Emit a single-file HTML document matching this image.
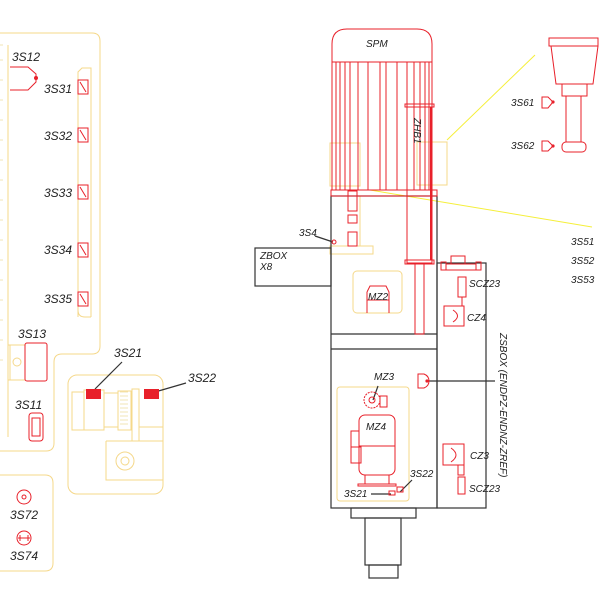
<!DOCTYPE html>
<html><head><meta charset="utf-8"><style>
html,body{margin:0;padding:0;background:#fff;}
svg{display:block;}
text{font-family:"Liberation Sans",sans-serif;font-style:italic;}
</style></head><body>
<svg width="600" height="600" viewBox="0 0 600 600" xmlns="http://www.w3.org/2000/svg">
<g fill="none" stroke="#f5d88a" stroke-width="1">
  <path d="M0 33 H92 Q100 33 100 41 V346 Q100 354 92 354 H62 Q54 354 54 362 V443 Q54 451 46 451 H0"/>
  <line x1="8" y1="45" x2="8" y2="437"/>
  <path d="M78 317 V72 L82 68 H91 V317"/>
  <path d="M78 310 Q78 317 85 317 H91"/>
  <line x1="8" y1="345" x2="25" y2="345"/><line x1="8" y1="380" x2="25" y2="380"/>
  <line x1="10" y1="345" x2="10" y2="380"/>
  <circle cx="17" cy="362" r="4"/>
  <path d="M0 475 H45 Q53 475 53 483 V563 Q53 571 45 571 H0"/>
  <rect x="68" y="375" width="95" height="119" rx="9"/>
  <rect x="72" y="392" width="12" height="38"/>
  <rect x="84" y="390" width="20" height="40"/>
  <rect x="104" y="393" width="14" height="34"/>
  <rect x="118" y="391" width="13" height="39"/>
  <rect x="132" y="389" width="7" height="52"/>
  <line x1="139" y1="427" x2="163" y2="427"/>
  <path d="M106 441 H163 M106 441 V480 H163"/>
  <circle cx="125" cy="461" r="9"/><circle cx="125" cy="461" r="4"/>
  <rect x="330" y="143" width="30" height="43"/>
  <rect x="417" y="142" width="30" height="43"/>
  <rect x="330" y="246" width="43" height="8"/>
  <line x1="360" y1="196" x2="360" y2="246"/>
  <rect x="353" y="271" width="49" height="42" rx="4"/>
  <rect x="337" y="387" width="72" height="114" rx="3"/>
</g>
<g stroke="#f2e5b5" stroke-width="1">
  <path d="M0 45 H3 M0 60 H3 M0 80 H3 M0 100 H3 M0 120 H3 M0 140 H3 M0 160 H3 M0 180 H3 M0 200 H3 M0 220 H3 M0 240 H3 M0 260 H3 M0 280 H3 M0 300 H3 M0 320 H3 M0 340 H3 M0 360 H3"/>
  <path d="M120 392 H128 M120 396 H128 M120 400 H128 M120 404 H128 M120 408 H128 M120 412 H128 M120 416 H128 M120 420 H128 M120 424 H128"/>
</g>
<g stroke="#f5ef3a" stroke-width="1">
  <line x1="447" y1="140" x2="535" y2="55"/>
  <line x1="370" y1="190" x2="592" y2="227"/>
</g>
<g fill="none" stroke="#333" stroke-width="1.2">
  <rect x="331" y="196" width="106" height="312"/>
  <line x1="331" y1="334" x2="437" y2="334"/>
  <line x1="331" y1="349" x2="437" y2="349"/>
  <rect x="437" y="263" width="49" height="245"/>
  <rect x="255" y="248" width="76" height="38"/>
  <rect x="351" y="508" width="65" height="10"/>
  <rect x="365" y="518" width="36" height="47"/>
  <rect x="369" y="565" width="29" height="13"/>
  <line x1="428" y1="381" x2="495" y2="381"/>
  <line x1="315" y1="236" x2="333" y2="242"/>
  <line x1="95" y1="389" x2="122" y2="362"/>
  <line x1="155" y1="392" x2="186" y2="383"/>
  <line x1="371" y1="494" x2="391" y2="494"/>
  <line x1="400" y1="492" x2="412" y2="480"/>
  <line x1="373" y1="400" x2="378" y2="386"/>
</g>
<g fill="none" stroke="#e8202a" stroke-width="1">
  <path d="M10 67 H28 L36 74 V82 L28 90 H10"/>
  <rect x="78" y="80" width="10" height="14"/><rect x="78" y="128" width="10" height="14"/>
  <rect x="78" y="185" width="10" height="14"/><rect x="78" y="243" width="10" height="14"/>
  <rect x="78" y="292" width="10" height="14"/>
  <path d="M80 82 L86 92 M80 130 L86 140 M80 187 L86 197 M80 245 L86 255 M80 294 L86 304"/>
  <rect x="25" y="343" width="22" height="38" rx="2"/>
  <rect x="29" y="413" width="14" height="28" rx="3"/><rect x="32" y="418" width="8" height="18"/>
  <circle cx="24" cy="497" r="7"/><circle cx="24" cy="497" r="2"/>
  <circle cx="24" cy="538" r="7"/><path d="M18 538 H30 M20 535 V541 M28 535 V541"/>
  <path d="M332 62 V44 Q332 29 347 29 H417 Q432 29 432 44 V62 Z"/>
  <rect x="332" y="62" width="100" height="128"/>
  <path d="M336 62 V190 M340 62 V190 M345 62 V190 M350 62 V190 M358 62 V190 M368 62 V190 M380 62 V190 M386 62 V190 M397 62 V190 M407 62 V190 M414 62 V190 M420 62 V190 M425 62 V190 M429 62 V190"/>
  <rect x="331" y="190" width="106" height="6"/>
  <rect x="407" y="104" width="25" height="159"/>
  <rect x="405" y="104" width="29" height="3"/>
  <rect x="405" y="260" width="29" height="4"/>
  <rect x="415" y="264" width="9" height="70"/>
  <line x1="431" y1="107" x2="431" y2="260" stroke-width="2"/>
  <rect x="348" y="191" width="9" height="20"/><rect x="348" y="215" width="9" height="8"/><rect x="348" y="232" width="9" height="14"/>
  <circle cx="334" cy="242" r="2"/>
  <path d="M367 292 L370 286 H386 L389 292 V313 M367 313 V292 M367 300 H389"/>
  <path d="M549 38 H598 V46 H549 Z M551 46 L556 84 H593 L598 46"/>
  <rect x="562" y="84" width="25" height="12"/>
  <rect x="566" y="96" width="15" height="46"/>
  <rect x="562" y="142" width="24" height="10" rx="4"/>
  <path d="M542 97 H548 L553 102 L548 108 H542 Z"/>
  <path d="M542 141 H548 L553 146 L548 151 H542 Z"/>
  <rect x="451" y="256" width="14" height="8"/><rect x="446" y="264" width="30" height="6"/>
  <rect x="441" y="262" width="5" height="8"/><rect x="476" y="262" width="5" height="8"/>
  <rect x="458" y="277" width="8" height="20"/><line x1="462" y1="297" x2="462" y2="306"/>
  <rect x="444" y="306" width="20" height="20"/><path d="M453 310 Q462 316 453 322"/>
  <rect x="443" y="444" width="21" height="21"/><path d="M451 448 Q461 455 451 462"/>
  <rect x="458" y="465" width="6" height="10"/><rect x="458" y="477" width="7" height="17"/>
  <path d="M418 374 H424 Q429 376 429 381 Q429 386 424 388 H418 Z"/>
  <circle cx="372" cy="400" r="8" stroke-dasharray="2 1"/><circle cx="372" cy="400" r="3"/>
  <rect x="380" y="396" width="7" height="11"/>
  <rect x="359" y="415" width="36" height="60" rx="6"/>
  <line x1="359" y1="446" x2="395" y2="446"/>
  <rect x="351" y="431" width="8" height="16"/><rect x="351" y="447" width="10" height="16"/>
  <rect x="365" y="475" width="24" height="9"/><rect x="358" y="484" width="38" height="2"/>
  <rect x="389" y="491" width="6" height="4"/><rect x="397" y="487" width="6" height="5"/>
</g>
<g fill="#e8202a">
  <rect x="86" y="389" width="15" height="10"/><rect x="144" y="389" width="15" height="10"/>
  <circle cx="36" cy="78" r="2"/><circle cx="553" cy="102" r="1.6"/><circle cx="553" cy="146" r="1.6"/>
  <circle cx="427" cy="381" r="1.6"/>
</g>
<g fill="#222" font-size="12">
  <text x="12" y="61">3S12</text>
  <text x="44" y="93">3S31</text><text x="44" y="140">3S32</text>
  <text x="44" y="197">3S33</text><text x="44" y="254">3S34</text>
  <text x="44" y="303">3S35</text>
  <text x="18" y="338">3S13</text><text x="15" y="409">3S11</text>
  <text x="114" y="357">3S21</text><text x="188" y="382">3S22</text>
  <text x="10" y="519">3S72</text><text x="10" y="560">3S74</text>
</g>
<g fill="#222" font-size="10">
  <text x="366" y="47">SPM</text>
  <text x="511" y="106">3S61</text><text x="511" y="149">3S62</text>
  <text x="571" y="245">3S51</text><text x="571" y="264">3S52</text><text x="571" y="283">3S53</text>
  <text x="299" y="236">3S4</text>
  <text x="260" y="259">ZBOX</text><text x="260" y="270">X8</text>
  <text x="368" y="300">MZ2</text>
  <text x="469" y="287">SCZ23</text><text x="467" y="321">CZ4</text>
  <text x="374" y="380">MZ3</text><text x="366" y="430">MZ4</text>
  <text x="410" y="477">3S22</text><text x="344" y="497">3S21</text>
  <text x="470" y="459">CZ3</text><text x="469" y="492">SCZ23</text>
  <text transform="translate(414,118) rotate(90)">ZHB1</text>
  <text transform="translate(500,333) rotate(90)">ZSBOX (ENDPZ-ENDNZ-ZREF)</text>
</g>
</svg>
</body></html>
